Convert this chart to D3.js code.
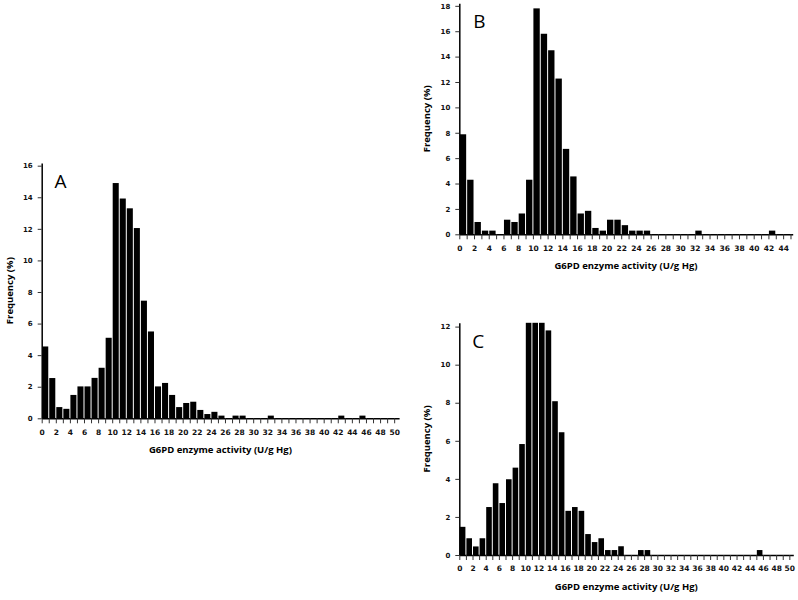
<!DOCTYPE html>
<html>
<head>
<meta charset="utf-8">
<script src="https://cdn.jsdelivr.net/npm/d3@7"></script>
<style>
  html, body { margin: 0; padding: 0; background: #ffffff; }
  svg { display: block; }
</style>
</head>
<body>
<svg id="chart" width="798" height="600"></svg>
<script>
// ---- Data (frequency %, one bin per unit of G6PD activity, bin i = [i, i+1)) ----
const panelLabels = ["A", "B", "C"];
const xAxisTitle = "G6PD enzyme activity (U/g Hg)";
const yAxisTitle = "Frequency (%)";

const freqA = [4.55, 2.55, 0.71, 0.60, 1.48, 2.02, 2.02, 2.56, 3.20, 5.10,
               14.90, 13.92, 13.30, 12.05, 7.45, 5.50, 2.02, 2.24, 1.48, 0.71,
               0.97, 1.05, 0.53, 0.27, 0.41, 0.17, 0, 0.17, 0.17, 0,
               0, 0, 0.17, 0, 0, 0, 0, 0, 0, 0,
               0, 0, 0.17, 0, 0, 0.17, 0, 0, 0, 0];
const freqB = [7.88, 4.30, 0.97, 0.29, 0.29, 0, 1.15, 0.97, 1.64, 4.30,
               17.80, 15.80, 14.50, 12.27, 6.73, 4.56, 1.64, 1.85, 0.50, 0.29,
               1.15, 1.15, 0.72, 0.29, 0.29, 0.29, 0, 0, 0, 0,
               0, 0, 0.29, 0, 0, 0, 0, 0, 0, 0,
               0, 0, 0.29, 0, 0];
const freqC = [1.48, 0.88, 0.45, 0.88, 2.52, 3.77, 2.73, 3.98, 4.59, 5.83,
               12.20, 12.20, 12.20, 11.80, 8.08, 6.45, 2.32, 2.52, 2.32, 1.10,
               0.68, 0.88, 0.26, 0.26, 0.46, 0, 0, 0.26, 0.26, 0,
               0, 0, 0, 0, 0, 0, 0, 0, 0, 0,
               0, 0, 0, 0, 0, 0.26, 0, 0, 0, 0];

const yTicksA = [0, 2, 4, 6, 8, 10, 12, 14, 16];
const yTicksB = [0, 2, 4, 6, 8, 10, 12, 14, 16, 18];
const yTicksC = [0, 2, 4, 6, 8, 10, 12];

// ---- Layout (positions only) ----
const panels = [
  { label: panelLabels[0], data: freqA, yTicks: yTicksA, xMax: 50, xDomainMax: 50.7, yDomainMax: 16.17,
    left: 41.7, right: 399.1, bottom: 418.3, top: 163.0, letterX: 60.5, letterY: 188 },
  { label: panelLabels[1], data: freqB, yTicks: yTicksB, xMax: 45, xDomainMax: 45.3, yDomainMax: 18.2,
    left: 459.3, right: 792.7, bottom: 234.3, top: 3.3, letterX: 479.3, letterY: 28 },
  { label: panelLabels[2], data: freqC, yTicks: yTicksC, xMax: 50, xDomainMax: 50.6, yDomainMax: 12.2,
    left: 459.3, right: 793.3, bottom: 555.0, top: 322.8, letterX: 478.3, letterY: 348 }
];

const svg = d3.select("#chart");
const tickFont = "'DejaVu Sans', Verdana, sans-serif";
const titleFont = "'Open Sans', 'Noto Sans', sans-serif";

panels.forEach(p => {
  const g = svg.append("g");
  const x = d3.scaleLinear().domain([0, p.xDomainMax]).range([p.left, p.right]);
  const y = d3.scaleLinear().domain([0, p.yDomainMax]).range([p.bottom, p.top]);

  // bars
  const bins = p.data.map((v, i) => ({ x0: i, v: v })).filter(d => d.v > 0);
  g.append("g").selectAll("rect").data(bins).join("rect")
    .attr("x", d => x(d.x0) + 0.5)
    .attr("width", d => x(d.x0 + 1) - x(d.x0) - 1)
    .attr("y", d => y(d.v))
    .attr("height", d => y(0) - y(d.v))
    .attr("fill", "#000");

  // x axis
  const xTickVals = d3.range(0, p.xMax + 1);
  const xAxis = d3.axisBottom(x).tickValues(xTickVals).tickSizeInner(5).tickSizeOuter(0)
    .tickFormat(d => (d % 2 === 0 && d <= p.xMax) ? d : "");
  const gx = g.append("g").attr("transform", `translate(0,${p.bottom})`).call(xAxis);
  gx.select(".domain").attr("stroke", "#000").attr("stroke-width", 1.5);
  gx.selectAll(".tick line").attr("stroke", "#333").attr("stroke-width", 1);
  gx.selectAll(".tick text").attr("y", 11)
    .style("font-family", tickFont).style("font-size", "7.5px").style("font-weight", "bold").attr("fill", "#111");

  // y axis
  const yAxis = d3.axisLeft(y).tickValues(p.yTicks).tickSizeInner(4).tickSizeOuter(0);
  const gy = g.append("g").attr("transform", `translate(${p.left},0)`).call(yAxis);
  gy.select(".domain").attr("stroke", "#000").attr("stroke-width", 1.5);
  gy.selectAll(".tick line").attr("stroke", "#333").attr("stroke-width", 1);
  gy.selectAll(".tick text").attr("x", -9)
    .style("font-family", tickFont).style("font-size", "7px").style("font-weight", "bold").attr("fill", "#111");

  // axis titles
  g.append("text")
    .attr("x", (p.left + p.right) / 2).attr("y", p.bottom + 35)
    .attr("text-anchor", "middle")
    .style("font-family", titleFont).style("font-size", "9.5px").style("font-weight", "bold")
    .text(xAxisTitle);
  g.append("text")
    .attr("transform", `translate(${p.left - 29},${(p.top + p.bottom) / 2}) rotate(-90)`)
    .attr("text-anchor", "middle")
    .style("font-family", titleFont).style("font-size", "9.5px").style("font-weight", "bold")
    .text(yAxisTitle);

  // panel letter
  g.append("text")
    .attr("x", p.letterX).attr("y", p.letterY)
    .attr("text-anchor", "middle")
    .style("font-family", titleFont).style("font-size", "19px")
    .text(p.label);
});
</script>
</body>
</html>
